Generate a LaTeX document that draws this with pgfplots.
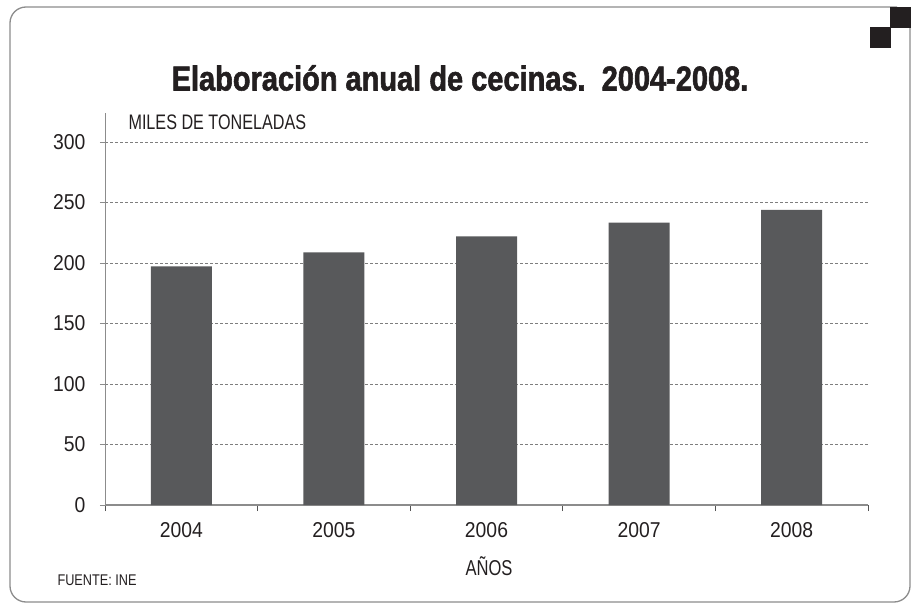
\documentclass[border=0pt]{standalone}
\usepackage{pgfplots}
\pgfplotsset{compat=1.18}
\usepackage{fontspec}
\setmainfont{Liberation Sans}[FakeStretch=0.77]
\newfontfamily\titlefont{Liberation Sans}[FakeStretch=0.84,FakeBold=1.6]
\newfontfamily\numfont{Liberation Sans}[FakeStretch=0.9]
\newfontfamily\smallfont{Liberation Sans}[FakeStretch=0.82]
\definecolor{barc}{HTML}{58595B}
\definecolor{txt}{HTML}{231F20}
\definecolor{framec}{HTML}{8C8C8C}
\begin{document}
\begin{tikzpicture}[x=1pt,y=1pt]
\path[use as bounding box] (0,0) rectangle (916,606);
% frame
\draw[framec, line width=1.3pt, rounded corners=16pt] (897,599) -- (10,599) -- (10,4) -- (910,4) -- (910,579);
\fill[txt] (890,599) rectangle (911,578);
\fill[txt] (870,579) rectangle (891,558);
% title
\node[txt, font=\titlefont\bfseries\fontsize{34.5}{40}\selectfont] at (460,528) {Elaboración anual de cecinas.\ \ 2004-2008.};
\begin{axis}[
  at={(105pt,101pt)}, anchor=south west,
  scale only axis, width=763pt, height=392pt,
  xmin=0.5, xmax=5.5, ymin=0, ymax=324,
  axis x line*=bottom, axis y line*=left,
  ytick={0,50,...,300},
  ymajorgrids,
  grid style={framec!90!black, line width=0.7pt, dash pattern=on 3pt off 2pt},
  xtick={1,2,3,4,5},
  xticklabels={2004,2005,2006,2007,2008},
  minor xtick={0.5,1.5,2.5,3.5,4.5,5.5},
  tick align=outside,
  major tick length=5pt,
  minor tick length=6pt,
  xtick style={draw=none},
  minor x tick style={draw=framec!60!black, line width=0.8pt},
  ytick style={draw=framec, line width=0.8pt},
  x axis line style={framec, line width=2.2pt},
  y axis line style={framec, line width=0.8pt},
  tick label style={txt, font=\numfont\fontsize{21.5}{24}\selectfont},
  yticklabel style={xshift=-11pt},
  xticklabel style={yshift=-9pt},
  /pgf/number format/assume math mode=true,
  clip=false,
]
\addplot[ybar, bar width=61pt, fill=barc, draw=none] coordinates {
 (1,197.2) (2,208.8) (3,222.0) (4,233.3) (5,244.0)
};
\end{axis}
\node[txt, anchor=west, font=\fontsize{21}{24}\selectfont] at (125,484) {MILES DE TONELADAS};
\node[txt, font=\fontsize{21.5}{24}\selectfont] at (489,40) {AÑOS};
\node[txt, anchor=west, font=\smallfont\fontsize{15.5}{18}\selectfont] at (54,26) {FUENTE: INE};
\end{tikzpicture}
\end{document}
